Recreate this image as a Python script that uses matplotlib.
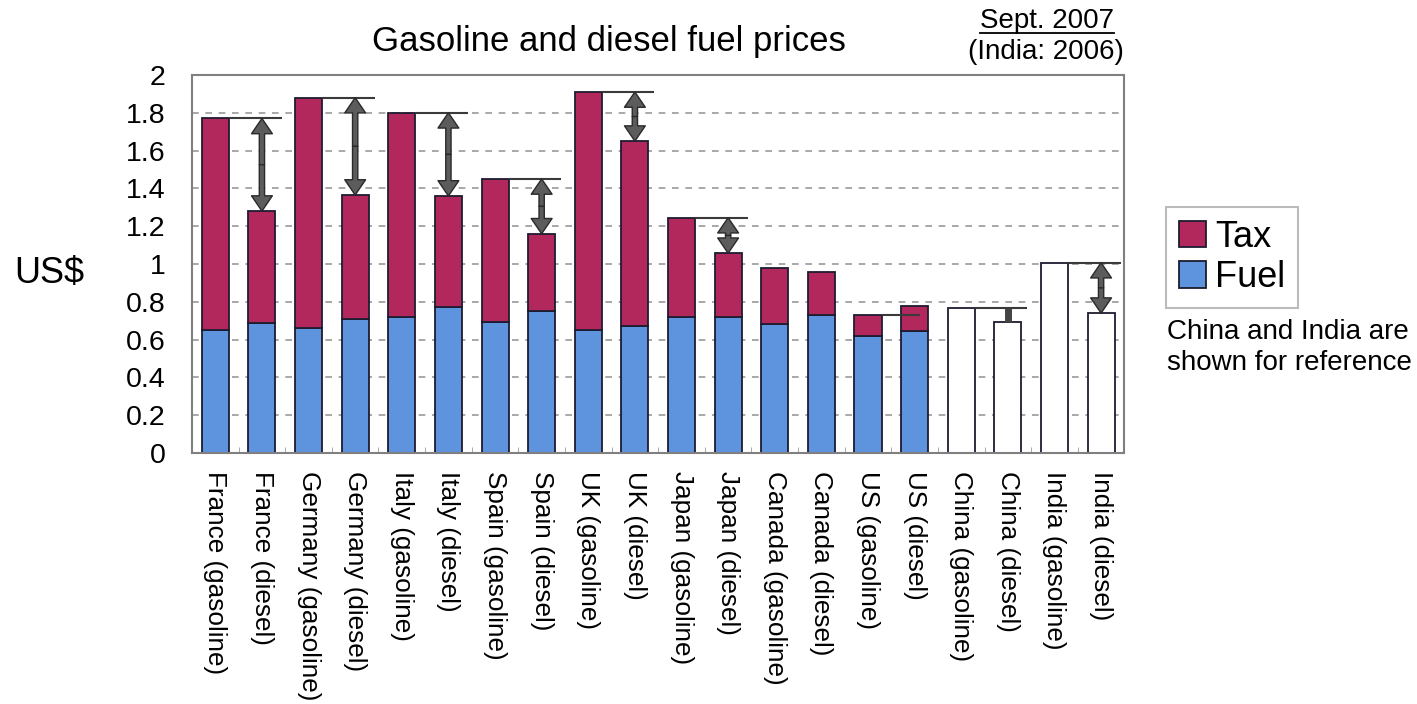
import matplotlib
matplotlib.use('Agg')
import matplotlib.pyplot as plt
from matplotlib.lines import Line2D
from matplotlib.patches import Patch
import numpy as np

plt.rcParams['font.family'] = ['Liberation Sans', 'DejaVu Sans']

labels = ['France (gasoline)', 'France (diesel)', 'Germany (gasoline)', 'Germany (diesel)',
          'Italy (gasoline)', 'Italy (diesel)', 'Spain (gasoline)', 'Spain (diesel)',
          'UK (gasoline)', 'UK (diesel)', 'Japan (gasoline)', 'Japan (diesel)',
          'Canada (gasoline)', 'Canada (diesel)', 'US (gasoline)', 'US (diesel)',
          'China (gasoline)', 'China (diesel)', 'India (gasoline)', 'India (diesel)']

# first 16 bars split into fuel + tax
total = [1.77, 1.28, 1.88, 1.365, 1.80, 1.36, 1.45, 1.16, 1.91, 1.65,
         1.245, 1.057, 0.98, 0.96, 0.73, 0.78]
fuel = [0.65, 0.69, 0.66, 0.71, 0.72, 0.77, 0.695, 0.75, 0.65, 0.67,
        0.72, 0.72, 0.68, 0.73, 0.62, 0.645]
# China and India, total price only
ref_total = [0.765, 0.695, 1.007, 0.74]

# gasoline bars that get a reference line to their diesel neighbour
compare_idx = [0, 2, 4, 6, 8, 10, 14, 16, 18]

tax_color = '#B3285C'
fuel_color = '#5E93DE'
edge = '#1c1c30'
arrow_dark = '#3a3a3a'

all_total = total + ref_total
tax = [t - f for t, f in zip(total, fuel)]
x = np.arange(len(labels))
w = 0.58

fig = plt.figure(figsize=(14.17, 7.04), dpi=100)
ax = fig.add_axes([0.1355, 0.3565, 0.658, 0.537])

# grid
for g in np.arange(0.2, 1.81, 0.2):
    ax.axhline(g, color='#9a9a9a', lw=1.2, ls=(0, (4, 4)), zorder=0)

n = len(total)
ax.bar(x[:n], fuel, w, color=fuel_color, edgecolor=edge, lw=1.3, zorder=2)
ax.bar(x[:n], tax, w, bottom=fuel, color=tax_color, edgecolor=edge, lw=1.3, zorder=2)
ax.bar(x[n:], ref_total, w, color='white', edgecolor=edge, lw=1.3, zorder=2)

for i in compare_idx:
    g, d = all_total[i], all_total[i + 1]
    end = i + 1 + (0.42 if g > d else 0.12)
    ax.plot([i + w / 2, end], [g, g], color=arrow_dark, lw=1.5, zorder=3,
            solid_capstyle='butt')
    diff = g - d
    if diff > 0.15:
        mid = (g + d) / 2
        for tip in (g, d):
            ax.annotate('', xy=(i + 1, tip), xytext=(i + 1, mid),
                        arrowprops=dict(arrowstyle='simple,head_length=11,head_width=15,tail_width=3.8',
                                        mutation_scale=1, fc='#5c5c5c', ec='#2a2a2a', lw=1,
                                        shrinkA=0, shrinkB=0), zorder=4)
    elif diff > 0:
        ax.plot([i + 1, i + 1], [g, d], color='#444444', lw=5, zorder=4,
                solid_capstyle='butt')

ax.set_xlim(-0.5, len(labels) - 0.5)
ax.set_ylim(0, 2)
ax.set_yticks(np.arange(0, 2.01, 0.2))
ax.set_yticklabels(['0', '0.2', '0.4', '0.6', '0.8', '1', '1.2', '1.4', '1.6', '1.8', '2'])
ax.set_xticks(x)
ax.set_xticklabels(labels, rotation=270, ha='center', va='top', fontsize=18.8)
ax.set_xticks(x[:-1] + 0.5, minor=True)
ax.tick_params(axis='y', length=0, pad=19, labelsize=20.5)
ax.tick_params(axis='x', which='major', length=0, pad=13)
ax.tick_params(axis='x', which='minor', direction='in', length=4, color='#999999')
for s in ax.spines.values():
    s.set_color('#808080')
    s.set_linewidth(1.5)

fig.text(0.43, 0.941, 'Gasoline and diesel fuel prices', fontsize=25,
         ha='center', va='center')
fig.text(0.0345, 0.612, 'US$', fontsize=26, ha='center', va='center')

sept = fig.text(0.739, 0.970, 'Sept. 2007', fontsize=20, ha='center', va='center')
fig.text(0.738, 0.926, '(India: 2006)', fontsize=20, ha='center', va='center')
fig.canvas.draw()
bb = sept.get_window_extent().transformed(fig.transFigure.inverted())
fig.add_artist(Line2D([bb.x0, bb.x1], [bb.y0 + 0.002, bb.y0 + 0.002],
                      transform=fig.transFigure, color='black', lw=1.3))

fig.text(0.8235, 0.506, 'China and India are\nshown for reference', fontsize=20,
         ha='left', va='center', linespacing=1.25)

handles = [Patch(facecolor=tax_color, edgecolor=edge, lw=1.3),
           Patch(facecolor=fuel_color, edgecolor=edge, lw=1.3)]
leg = fig.legend(handles, ['Tax', 'Fuel'], loc='upper left',
                 bbox_to_anchor=(0.823, 0.706), fontsize=26, frameon=True,
                 fancybox=False, edgecolor='#aaaaaa', handlelength=0.75,
                 handleheight=0.75, handletextpad=0.25, labelspacing=0.15,
                 borderpad=0.35, borderaxespad=0)
leg.get_frame().set_linewidth(1.5)

fig.savefig('out.png', dpi=100)
